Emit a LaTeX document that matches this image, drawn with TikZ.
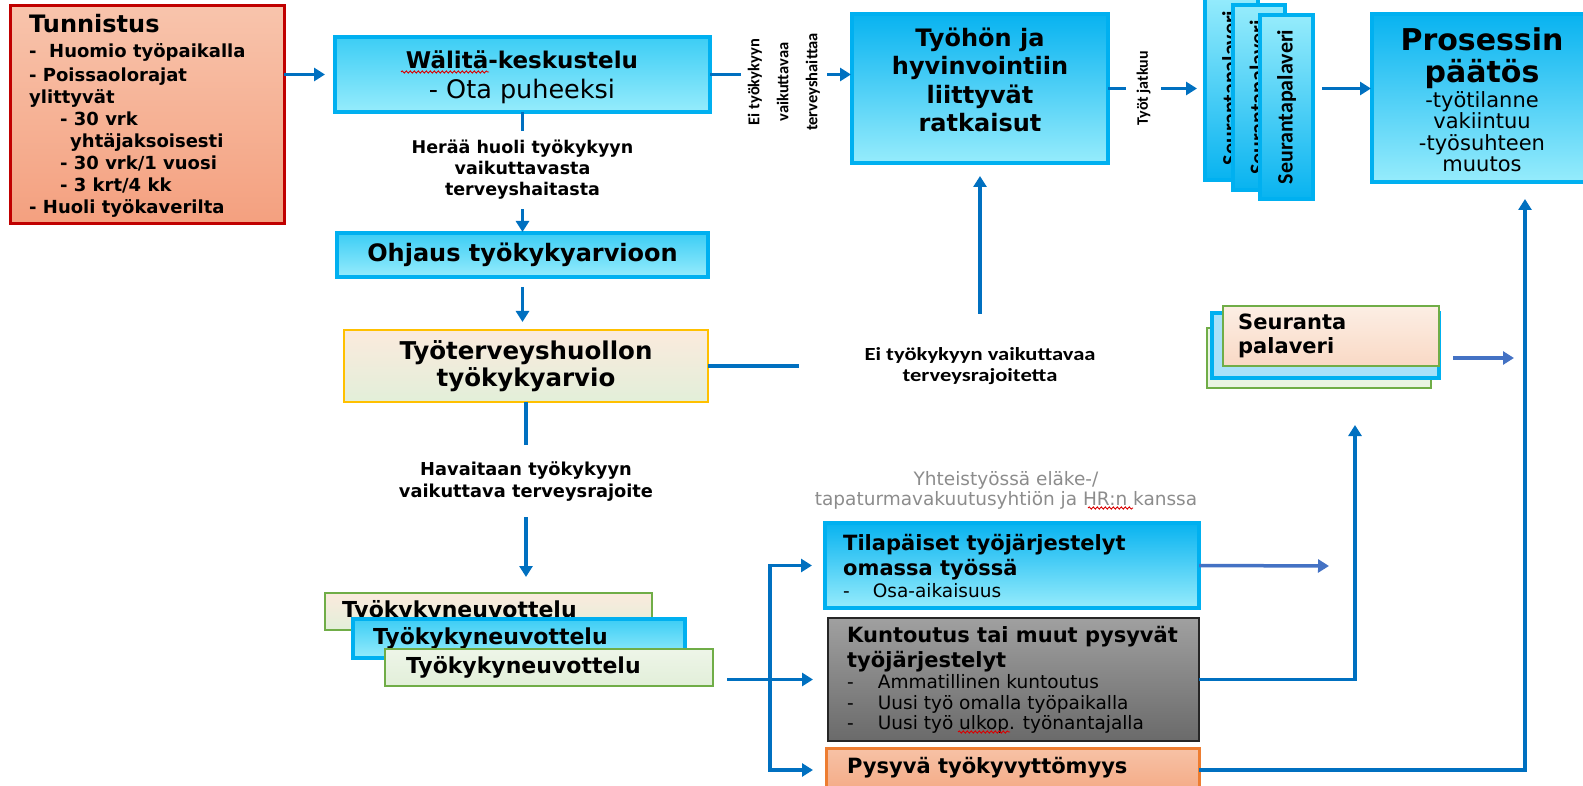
\documentclass[tikz,border=0pt]{standalone}
\usepackage{fontspec}
\usepackage{graphicx}
\setmainfont{DejaVu Sans}
\newfontfamily\calib{Carlito}
\usetikzlibrary{arrows.meta,calc,decorations.pathmorphing}
\newcommand\fs[2]{\fontsize{#1}{#2}\selectfont\lineskiplimit=-100pt\relax}
\definecolor{arrblue}{HTML}{0070C0}
\definecolor{arrblueB}{HTML}{4472C4}
\definecolor{cyanB}{HTML}{00B0F0}
\definecolor{cyanT}{HTML}{3CCDF5}
\definecolor{cyanD}{HTML}{08B3F0}
\definecolor{cyanL}{HTML}{96ECFC}
\definecolor{cTunTop}{HTML}{F8C4AC}
\definecolor{cTunBot}{HTML}{F4A07F}
\definecolor{cTunBd}{HTML}{C00000}
\definecolor{cPeach}{HTML}{FBEADD}
\definecolor{cLGreen}{HTML}{E2EFD9}
\definecolor{cGold}{HTML}{FFC000}
\definecolor{cGreen}{HTML}{70AD47}
\definecolor{cGrayT}{HTML}{A0A0A0}
\definecolor{cGrayB}{HTML}{6A6A6A}
\definecolor{cGrayBd}{HTML}{262626}
\definecolor{cOrT}{HTML}{F7C2A6}
\definecolor{cOrB}{HTML}{F4AA85}
\definecolor{cOrBd}{HTML}{ED7D31}
\definecolor{cSpB}{HTML}{A8E1F9}
\definecolor{cSpP1}{HTML}{FCEEE4}
\definecolor{cSpP2}{HTML}{F9D9C5}
\definecolor{cSpG}{HTML}{EAF4E2}
\definecolor{cGrayText}{HTML}{8C8C8C}
\tikzset{
  bx/.style={anchor=north west, inner sep=0pt, outer sep=0pt},
  cyanbox/.style={bx, draw=cyanB, line width=4.5pt, top color=cyanT, bottom color=cyanL},
  cyanboxD/.style={bx, draw=cyanB, line width=4.5pt, top color=cyanD, bottom color=cyanL},
  seurbox/.style={bx, draw=cyanB, line width=4pt, top color=cyanL, bottom color=cyanD,
     font=\calib\bfseries\fs{22}{24}},
  tunbox/.style={bx, draw=cTunBd, line width=3pt, top color=cTunTop, bottom color=cTunBot},
  yelbox/.style={bx, draw=cGold, line width=2pt, top color=cPeach, bottom color=cLGreen},
  gpbox/.style={bx, draw=cGreen, line width=1.5pt, top color=cPeach, bottom color=cLGreen},
  gbox/.style={bx, draw=cGreen, line width=1.5pt, top color=cLGreen!60!white, bottom color=cLGreen},
  graybox/.style={bx, draw=cGrayBd, line width=2pt, top color=cGrayT, bottom color=cGrayB},
  orbox/.style={bx, draw=cOrBd, line width=3pt, top color=cOrT, bottom color=cOrB},
  txt/.style={inner sep=0pt, align=center},
  ltxt/.style={inner sep=0pt, align=left, anchor=west},
  arr/.style={draw=arrblue, line width=3.5pt, -{Triangle[length=11pt,width=13pt]}},
  arrB/.style={draw=arrblueB, line width=3.5pt, -{Triangle[length=11pt,width=13pt]}},
  lbl/.style={fill=white, inner xsep=2pt, align=center},
  squig/.style={draw=red!85!black, line width=0.9pt, decorate,
     decoration={snake, amplitude=1.1pt, segment length=4pt}},
}
\begin{document}
\begin{tikzpicture}[x=1pt,y=-1pt]
\useasboundingbox (0,0) rectangle (1583,786);
\clip (0,0) rectangle (1583,786);

% ---------- boxes ----------
\node[tunbox, minimum width=274pt, minimum height=218pt] (tun) at (10,6) {};
\node[ltxt, font=\fs{18}{22}\bfseries] (tunT) at (29,116)
 {{\fs{24}{22}Tunnistus}\\[3pt]-\ \ Huomio työpaikalla\\[2pt]- Poissaolorajat\\ylittyvät\\
  \hspace*{31pt}- 30 vrk\\\hspace*{41pt}yhtäjaksoisesti\\\hspace*{31pt}- 30 vrk/1 vuosi\\
  \hspace*{31pt}- 3 krt/4 kk\\- Huoli työkaverilta};

\node[cyanbox, minimum width=375pt, minimum height=75pt] (wal) at (335,37) {};
\node[txt, font=\fs{23}{30}] (walT) at (522,77)
 {\textbf{Wälitä-keskustelu}\\{\fs{25.5}{30}- Ota puheeksi}};

\node[cyanboxD, minimum width=256pt, minimum height=149pt] (ty) at (852,14) {};
\node[txt, font=\fs{24}{28.5}\bfseries] (tyT) at (980,80)
 {Työhön ja\\hyvinvointiin\\liittyvät\\ratkaisut};

\node[seurbox, minimum width=53pt, minimum height=184pt] (seurA) at (1205,-4) {\rotatebox{90}{Seurantapalaveri}};
\node[seurbox, minimum width=52pt, minimum height=185pt] (seurB) at (1233,5) {\rotatebox{90}{Seurantapalaveri}};
\node[seurbox, minimum width=53pt, minimum height=184pt] (seurC) at (1260,15) {\rotatebox{90}{Seurantapalaveri}};

\node[cyanboxD, minimum width=218pt, minimum height=168pt] (pro) at (1372,14) {};
\node[txt, font=\fs{21}{21.5}] (proT) at (1482,100)
 {{\fs{30}{27}\bfseries Prosessin}\\[10.5pt]{\fs{30}{27}\bfseries päätös}\\[3.5pt]-työtilanne\\vakiintuu\\-työsuhteen\\muutos};

\node[cyanbox, minimum width=371pt, minimum height=44pt, anchor=north west, font=\fs{24}{26}\bfseries] (ohj) at (337,233) {Ohjaus työkykyarvioon};

\node[yelbox, minimum width=364pt, minimum height=72pt, align=center, font=\fs{24.5}{27}\bfseries] (tth) at (344,330) {Työterveyshuollon\\työkykyarvio};

\node[gpbox, minimum height=37pt, inner xsep=17pt, text width=293pt, align=left, font=\fs{22}{24}\bfseries] (neuA) at (325,593) {Työkykyneuvottelu};
\node[cyanbox, minimum height=39pt, inner xsep=20pt, text width=292pt, align=left, font=\fs{22}{24}\bfseries] (neuB) at (353,619) {Työkykyneuvottelu};
\node[gbox, minimum height=37pt, inner xsep=21pt, text width=286pt, align=left, font=\fs{22}{24}\bfseries] (neuC) at (385,649) {Työkykyneuvottelu};

\node[cyanboxD, minimum width=374pt, minimum height=85pt] (til) at (825,523) {};
\node[ltxt, font=\fs{21}{25}\bfseries] (tilT) at (843,566)
 {Tilapäiset työjärjestelyt\\omassa työssä\\[-3pt]{\fs{18.5}{22}\mdseries -\hspace{23pt}Osa-aikaisuus}};

\node[graybox, minimum width=371pt, minimum height=123pt] (kun) at (828,618) {};
\node[ltxt, font=\fs{21}{25}\bfseries] (kunT) at (847,680)
 {Kuntoutus tai muut pysyvät\\työjärjestelyt\\[-4pt]
  {\fs{18.5}{21}\mdseries -\hspace{24pt}Ammatillinen kuntoutus}\\[-4pt]
  {\fs{18.5}{21}\mdseries -\hspace{24pt}Uusi työ omalla työpaikalla}\\[-5pt]
  {\fs{18.5}{21}\mdseries -\hspace{24pt}Uusi työ ulkop. työnantajalla}};

\node[orbox, minimum width=373pt, minimum height=44pt] (pys) at (826,748) {};
\node[ltxt, font=\fs{21}{24}\bfseries] (pysT) at (847,768) {Pysyvä työkyvyttömyys};

\node[bx, draw=cGreen, line width=1.5pt, fill=cSpG, minimum width=224pt, minimum height=60pt] (spA) at (1207,328) {};
\node[bx, draw=cyanB, line width=4pt, fill=cSpB, minimum width=227pt, minimum height=65pt] (spB) at (1212,313) {};
\node[bx, draw=cGreen, line width=1.5pt, top color=cSpP1, bottom color=cSpP2, minimum width=216pt, minimum height=60pt] (spC) at (1223,306) {};
\node[ltxt, font=\fs{21}{24}\bfseries] (spT) at (1238,336) {Seuranta\\palaveri};

\node[txt, font=\fs{18.5}{20}, text=cGrayText] (yht) at (1006,490)
 {Yhteistyössä eläke-/\\tapaturmavakuutusyhtiön ja HR:n kanssa};

% spell-check underlines shown in the picture
\draw[squig] (401,72) -- (489,72);
\draw[squig] (1088,508) -- (1133,508);
\draw[squig] (958,732) -- (1010,732);

% ---------- connectors ----------
\draw[arr, shorten >=10pt] (tun.east |- wal.west) -- (wal.west);

\draw[arr, shorten >=1pt] (wal.east) -- node[lbl, pos=0.52, yshift=-7.5pt, rotate=90, inner ysep=7pt,
   font=\calib\bfseries\fs{16.5}{29}] (labA) {Ei työkykyyn\\vaikuttavaa\\terveyshaittaa} (ty.west |- wal.east);

\draw[arr, shorten >=8pt] (ty.east) -- node[lbl, pos=0.366, rotate=90, inner ysep=11pt,
   font=\calib\bfseries\fs{16}{20}] (labB) {Työt jatkuu} (seurA.west |- ty.east);

\draw[arr, shorten <=9pt, shorten >=1pt] (seurC.east |- ty.east) -- (pro.west |- ty.east);

\draw[arr, shorten >=1pt] (wal.south) -- node[lbl, pos=0.48, inner ysep=9pt,
   font=\fs{17.5}{21}\bfseries] (labC) {Herää huoli työkykyyn\\vaikuttavasta\\terveyshaitasta} (ohj.north);

\draw[arr, shorten <=10pt, shorten >=8pt] (ohj.south) -- (ohj.south |- tth.north);

\draw[arr, shorten >=16pt] (tth.south) -- node[lbl, pos=0.414, inner ysep=16pt,
   font=\fs{17.8}{22}\bfseries] (labD) {Havaitaan työkykyyn\\vaikuttava terveysrajoite} (tth.south |- neuA.north);

\draw[arr, shorten >=13pt] (tth.east) -| node[pos=0.5, fill=white, minimum width=362pt, minimum height=104pt,
   align=center, font=\calib\bfseries\fs{18.5}{20.5}] (labE)
   {\scalebox{1.22}[1]{Ei työkykyyn vaikuttavaa}\\\scalebox{1.22}[1]{terveysrajoitetta}} (ty.south);

\coordinate (fork) at (770,679.5);
\draw[arr, shorten <=14pt, shorten >=15pt] (neuC.east |- kun.west) -- (kun.west);
\draw[arr, shorten >=13pt] (fork) |- (til.west);
\draw[arr, shorten >=13pt] (fork) |- (pys.west);

\coordinate (tilEnd) at (1329,566);
\draw[arrB] (til.east) -- (tilEnd);
\draw[arr, shorten >=37pt] (kun.east) -| ([xshift=36pt]spA.south);
\draw[arr, shorten >=17pt] (pys.east) -| ([xshift=44pt]pro.south);
\coordinate (spEnd) at (1514,358);
\draw[arrB, shorten <=14pt] (spB.east |- spEnd) -- (spEnd);
\end{tikzpicture}
\end{document}
